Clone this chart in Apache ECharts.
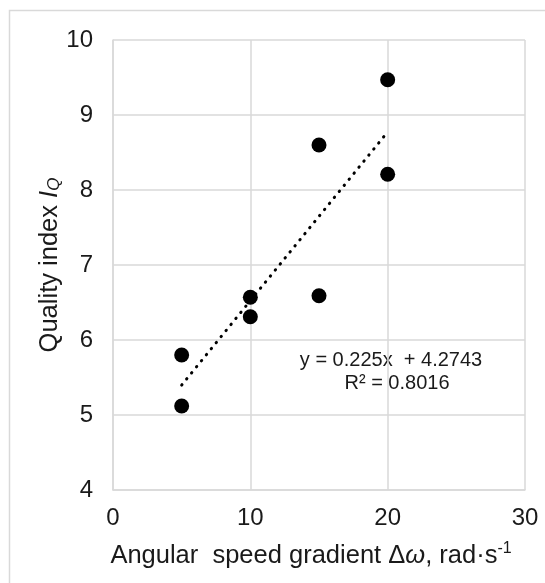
<!DOCTYPE html>
<html>
<head>
<meta charset="utf-8">
<script src="https://cdn.jsdelivr.net/npm/echarts@6/dist/echarts.min.js"></script>
<style>
html,body{margin:0;padding:0;background:#fff;}
#c{width:545px;height:583px;}
</style>
</head>
<body>
<div id="c"></div>
<script>
// Data
const xValues = [5, 5, 10, 10, 15, 15, 20, 20];
const yValues = [5.80, 5.12, 6.57, 6.31, 8.60, 6.59, 9.47, 8.21];
const trendX = [5, 20];
const trendY = [5.399, 8.774];
const xTicks = [0, 10, 20, 30];
const yTicks = [4, 5, 6, 7, 8, 9, 10];
const equationText = 'y = 0.225x  + 4.2743';
const r2Text = 'R² = 0.8016';

const points = xValues.map((x, i) => [x, yValues[i]]);
const trend = trendX.map((x, i) => [x, trendY[i]]);

const FONT = '"Liberation Sans", Arial, sans-serif';
const GRID = '#d9d9d9';
const TXT = '#1a1a1a';

const chart = echarts.init(document.getElementById('c'), null, {renderer: 'canvas'});
chart.setOption({
  animation: false,
  backgroundColor: '#fff',
  textStyle: {fontFamily: FONT},
  grid: {left: 113, right: 20, top: 40, bottom: 93, containLabel: false},
  xAxis: {
    type: 'value', min: xTicks[0], max: xTicks[xTicks.length - 1], interval: 10,
    axisLine: {show: true, lineStyle: {color: GRID, width: 1.5}},
    axisTick: {show: false},
    splitLine: {show: true, lineStyle: {color: GRID, width: 1.5}},
    axisLabel: {color: TXT, fontSize: 24, fontFamily: FONT, margin: 16},
    name: '{n|Angular  speed gradient Δ}{i|ω}{n|, rad·s}{s|-1}',
    nameLocation: 'middle', nameGap: 51,
    nameTextStyle: {
      padding: [0, 16, 0, 0],
      rich: {
        n: {fontSize: 25.5, color: TXT, fontFamily: FONT},
        i: {fontSize: 25.5, color: TXT, fontFamily: FONT, fontStyle: 'italic'},
        s: {fontSize: 16, color: TXT, fontFamily: FONT, verticalAlign: 'top', padding: [0, 0, 14, 0]}
      }
    }
  },
  yAxis: {
    type: 'value', min: yTicks[0], max: yTicks[yTicks.length - 1], interval: 1,
    axisLine: {show: true, lineStyle: {color: GRID, width: 1.5}},
    axisTick: {show: false},
    splitLine: {show: true, lineStyle: {color: GRID, width: 1.5}},
    axisLabel: {color: TXT, fontSize: 24, fontFamily: FONT, margin: 20},
    name: '{n|Quality index }{i|I}{q|Q}',
    nameLocation: 'middle', nameGap: 50,
    nameMoveOverlap: false,
    nameTextStyle: {
      rich: {
        n: {fontSize: 25.5, color: TXT, fontFamily: FONT},
        i: {fontSize: 25.5, color: TXT, fontFamily: FONT, fontStyle: 'italic'},
        q: {fontSize: 17, color: TXT, fontFamily: FONT, fontStyle: 'italic', verticalAlign: 'bottom', padding: [10, 0, 0, 0]}
      }
    }
  },
  series: [
    {
      type: 'line', data: trend, symbol: 'none', silent: true,
      lineStyle: {color: '#000', width: 3, type: [0.5, 7.3], cap: 'round'},
      z: 2
    },
    {
      type: 'scatter', data: points, symbol: 'circle', symbolSize: 15,
      itemStyle: {color: '#000', opacity: 1}, z: 3
    }
  ],
  graphic: [
    {type: 'rect', shape: {x: 9.5, y: 10.5, width: 560, height: 600}, style: {fill: null, stroke: GRID, lineWidth: 1.5}, silent: true, z: -1},
    {type: 'text', x: 391, y: 360, style: {text: equationText, font: '20px ' + FONT, fill: TXT, textAlign: 'center', textVerticalAlign: 'middle'}},
    {type: 'text', x: 397, y: 383, style: {text: r2Text, font: '20px ' + FONT, fill: TXT, textAlign: 'center', textVerticalAlign: 'middle'}}
  ]
});
</script>
</body>
</html>
